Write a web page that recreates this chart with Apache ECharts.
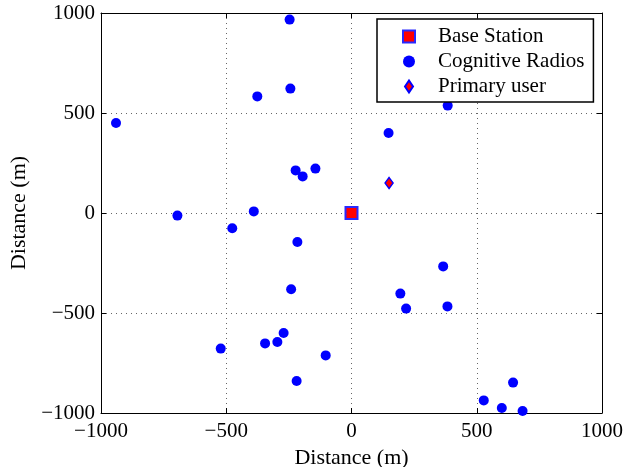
<!DOCTYPE html>
<html><head><meta charset="utf-8">
<script src="https://cdn.jsdelivr.net/npm/echarts@6/dist/echarts.min.js"></script>
<style>html,body{margin:0;padding:0;background:#fff}#c{width:633px;height:467px}</style>
</head><body><div id="c"></div>
<script>
var seriesNames = ['Base Station', 'Cognitive Radios', 'Primary user'];
var baseStation = [[0, 0]];
var crX = [-940, -695, -476, -390, -223, -195, -144, -216, -241, -376, -247, -244, 148, 366, 195, 218, 383, 384, -522, -345, -296, -271, -103, -219, 528, 600, 683, 645];
var crY = [450, -13, -76, 8, 213, 183, 222, -145, -381, 583, 967, 622, 400, -267, -403, -478, -467, 537, -678, -652, -645, -600, -712, -840, -937, -975, -990, -848];
var primaryUser = [[150, 150]];
var axisMin = -1000, axisMax = 1000, axisStep = 500;
var axisTitle = 'Distance (m)';

var cognitive = crX.map(function (x, i) { return [x, crY[i]]; });
var FONT = 'Liberation Serif';
function fmt(v) { return String(v).replace('-', '\u2212'); }

function mainAxis(extra) {
  var a = {
    type: 'value', min: axisMin, max: axisMax, interval: axisStep,
    axisLine: { show: true, onZero: false, lineStyle: { color: '#000', width: 1 } },
    axisTick: { show: true, inside: true, length: 5, lineStyle: { color: '#000' } },
    axisLabel: { color: '#000', fontFamily: FONT, fontSize: 21, formatter: fmt },
    splitLine: { show: true, lineStyle: { color: '#666', type: [1, 4], width: 1 } },
    name: axisTitle, nameLocation: 'middle',
    nameTextStyle: { color: '#000', fontFamily: FONT, fontSize: 22 }
  };
  for (var k in extra) a[k] = extra[k];
  return a;
}
function sideAxis(pos) {
  return {
    type: 'value', min: axisMin, max: axisMax, interval: axisStep, position: pos,
    axisLine: { show: true, onZero: false, lineStyle: { color: '#000', width: 1 } },
    axisTick: { show: true, inside: true, length: 5, lineStyle: { color: '#000' } },
    axisLabel: { show: false }, splitLine: { show: false }
  };
}

var chart = echarts.init(document.getElementById('c'), null, { renderer: 'canvas' });
chart.setOption({
  animation: false,
  backgroundColor: '#fff',
  grid: { left: 101, right: 31, top: 13, bottom: 54, containLabel: false, outerBoundsMode: 'none' },
  xAxis: [
    mainAxis({ position: 'bottom', nameGap: 24, axisLabel: { color: '#000', fontFamily: FONT, fontSize: 21, formatter: fmt, margin: 8 } }),
    sideAxis('top')
  ],
  yAxis: [
    mainAxis({ position: 'left', nameGap: 59, axisLabel: { color: '#000', fontFamily: FONT, fontSize: 21, formatter: fmt, margin: 6 } }),
    sideAxis('right')
  ],
  legend: {
    orient: 'vertical', left: 377, top: 19,
    padding: [7, 9, 5, 25],
    itemGap: 4, itemWidth: 48, itemHeight: 12,
    backgroundColor: '#fff', borderColor: '#000', borderWidth: 1.5, borderRadius: 0,
    textStyle: { color: '#000', fontFamily: FONT, fontSize: 21 },
    data: [
      { name: seriesNames[0], icon: 'path://M0,0 L12,0 L12,12 L0,12 Z' },
      { name: seriesNames[1], icon: 'circle' },
      { name: seriesNames[2], icon: 'path://M4,0 L8,6 L4,12 L0,6 Z' }
    ]
  },
  series: [
    {
      name: seriesNames[1], type: 'scatter', data: cognitive, symbol: 'circle', symbolSize: 10,
      itemStyle: { color: 'rgb(0,0,255)', opacity: 1 }, z: 3
    },
    {
      name: seriesNames[0], type: 'scatter', data: baseStation, symbol: 'rect', symbolSize: 12,
      itemStyle: { color: 'rgb(255,0,0)', borderColor: 'rgb(40,40,255)', borderWidth: 2, opacity: 1 }, z: 4
    },
    {
      name: seriesNames[2], type: 'scatter', data: primaryUser, symbol: 'diamond', symbolSize: [8, 11],
      itemStyle: { color: 'rgb(255,0,0)', borderColor: 'rgb(0,0,255)', borderWidth: 1.5, opacity: 1 }, z: 4
    }
  ]
});
</script>
</body></html>
